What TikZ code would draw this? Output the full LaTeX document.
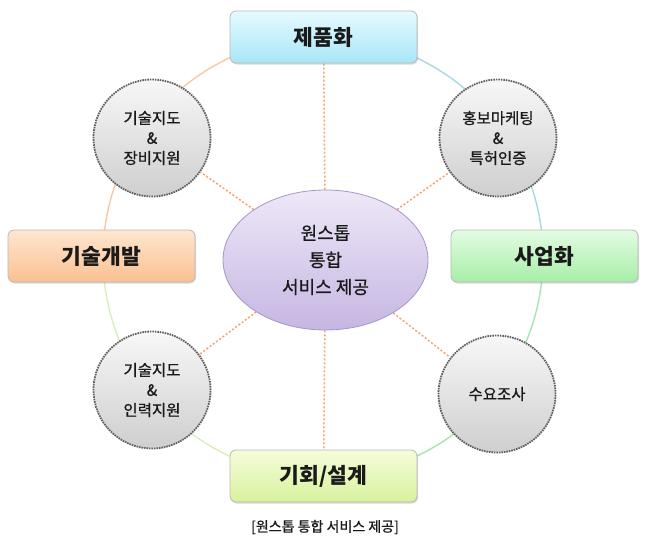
\documentclass[tikz,border=0pt]{standalone}
\usepackage{fontspec}
\setmainfont{Noto Sans CJK KR}
\newfontfamily\medfont{Noto Sans CJK KR}[FakeBold=0.8]
\usetikzlibrary{backgrounds,shadows,shapes.geometric}
\definecolor{ringA}{HTML}{F8C8A4}
\definecolor{ringB}{HTML}{A8D8E4}
\definecolor{ringC}{HTML}{A4E6B0}
\definecolor{ringD}{HTML}{D8EEBC}
\definecolor{conn}{HTML}{F2A46E}
\definecolor{txt}{HTML}{1A1A1A}
\definecolor{vtop}{HTML}{EEE8F8}
\definecolor{vbot}{HTML}{C6B6E2}
\definecolor{vdraw}{HTML}{A696C8}
\definecolor{ctop}{HTML}{E6FBFE}
\definecolor{cbot}{HTML}{A8E6F8}
\definecolor{otop}{HTML}{FEE6D0}
\definecolor{obot}{HTML}{FBC092}
\definecolor{gtop}{HTML}{E2FCE2}
\definecolor{gbot}{HTML}{A8EEA8}
\definecolor{ytop}{HTML}{F6FCDA}
\definecolor{ybot}{HTML}{D8F29E}
\begin{document}
\begin{tikzpicture}[x=1pt,y=-1pt,
  box/.style={rounded corners=6pt, draw=gray!55, line width=0.8pt,
    minimum width=187pt, minimum height=52pt, text=txt,
    font=\bfseries\fontsize{21.5}{24}\selectfont,
    drop shadow={shadow xshift=1pt, shadow yshift=-1.5pt, opacity=0.3}},
  gcirc/.style={circle, minimum size=117pt, inner sep=0pt, align=center,
    top color=gray!6, bottom color=gray!38, draw=gray!75!black,
    dash pattern=on 1.6pt off 0.9pt, line width=1.8pt, text=txt,
    font=\medfont\fontsize{15.5}{20}\selectfont},
  ringarc/.style={line width=1.4pt},
  conline/.style={conn, line width=1.5pt, dash pattern=on 2pt off 2pt}]
\useasboundingbox (0,0) rectangle (650,550);
\coordinate (rc) at (323,257);

\node[box, top color=ctop, bottom color=cbot] (prod) at (323.5,37) {제품화};
\node[box, top color=otop, bottom color=obot] (tech) at (101.5,256) {기술개발};
\node[box, top color=gtop, bottom color=gbot] (biz) at (544.5,256) {사업화};
\node[box, top color=ytop, bottom color=ybot] (plan) at (323.5,476) {기회/설계};

\node[gcirc] (tl) at (152,138) {기술지도\\\&\\장비지원};
\node[gcirc] (tr) at (498,138) {홍보마케팅\\\&\\특허인증};
\node[gcirc] (bl) at (152,390) {기술지도\\\&\\인력지원};
\node[gcirc] (br) at (497,394) {수요조사};

\node[ellipse, minimum width=205pt, minimum height=140pt, align=center,
  top color=vtop, bottom color=vbot, draw=vdraw,
  line width=0.8pt, text=txt, font=\medfont\fontsize{18}{27}\selectfont] (ctr) at (325.5,260)
  {원스톱\\통합\\서비스 제공};

\node[text=txt, font=\medfont\fontsize{14}{16}\selectfont] (cap) at (325,527) {[원스톱 통합 서비스 제공]};

\begin{pgfonlayer}{background}
  \draw[ringarc, ringA] ([shift={(90:220pt)}]rc) arc[start angle=90, end angle=180, radius=220pt];
  \draw[ringarc, ringB] ([shift={(0:220pt)}]rc) arc[start angle=0, end angle=90, radius=220pt];
  \draw[ringarc, ringC] ([shift={(-90:220pt)}]rc) arc[start angle=-90, end angle=0, radius=220pt];
  \draw[ringarc, ringD] ([shift={(180:220pt)}]rc) arc[start angle=180, end angle=270, radius=220pt];
  \draw[conline] (ctr) -- (prod);
  \draw[conline] (ctr) -- (plan);
  \draw[conline] (ctr) -- (tl);
  \draw[conline] (ctr) -- (tr);
  \draw[conline] (ctr) -- (bl);
  \draw[conline] (ctr) -- (br);
\end{pgfonlayer}
\end{tikzpicture}
\end{document}
